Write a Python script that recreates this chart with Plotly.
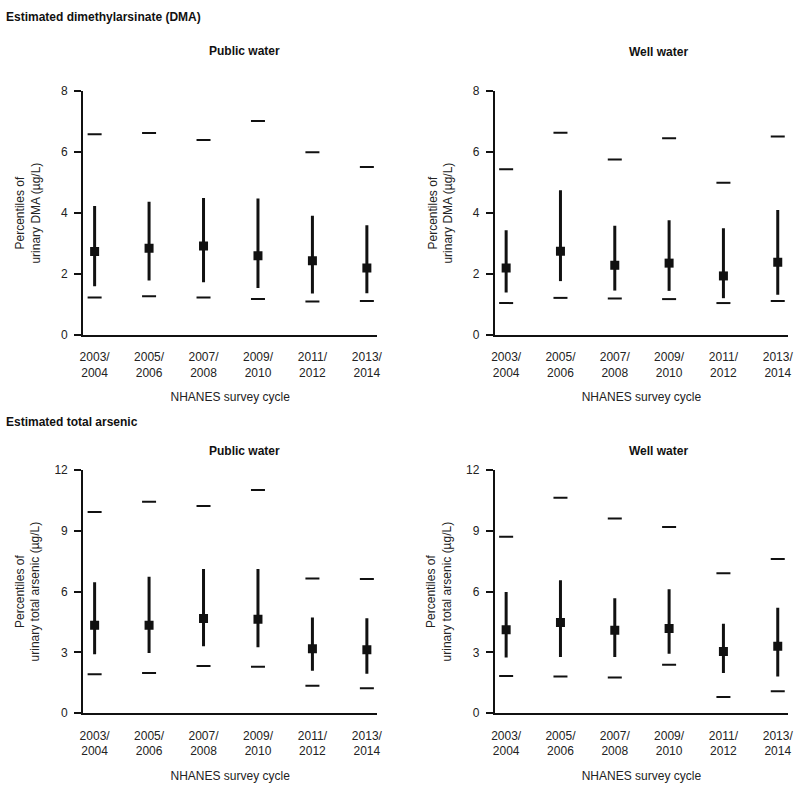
import plotly.graph_objects as go

cycles = ["2003/<br>2004", "2005/<br>2006", "2007/<br>2008", "2009/<br>2010", "2011/<br>2012", "2013/<br>2014"]

# Estimated DMA, public water (µg/L)
dma_public_p5 = [1.23, 1.27, 1.23, 1.18, 1.10, 1.12]
dma_public_p25 = [1.60, 1.79, 1.73, 1.54, 1.36, 1.37]
dma_public_p50 = [2.74, 2.85, 2.92, 2.60, 2.44, 2.20]
dma_public_p75 = [4.23, 4.37, 4.50, 4.48, 3.91, 3.60]
dma_public_p95 = [6.59, 6.63, 6.40, 7.02, 6.00, 5.51]

# Estimated DMA, well water
dma_well_p5 = [1.05, 1.22, 1.20, 1.18, 1.05, 1.12]
dma_well_p25 = [1.40, 1.77, 1.46, 1.45, 1.21, 1.32]
dma_well_p50 = [2.20, 2.75, 2.29, 2.36, 1.94, 2.39]
dma_well_p75 = [3.44, 4.75, 3.59, 3.77, 3.50, 4.10]
dma_well_p95 = [5.44, 6.64, 5.76, 6.46, 5.00, 6.51]

# Estimated total arsenic, public water
tas_public_p5 = [1.92, 1.99, 2.33, 2.29, 1.36, 1.23]
tas_public_p25 = [2.91, 2.97, 3.31, 3.26, 2.10, 1.95]
tas_public_p50 = [4.34, 4.34, 4.67, 4.64, 3.18, 3.13]
tas_public_p75 = [6.46, 6.73, 7.11, 7.11, 4.72, 4.68]
tas_public_p95 = [9.93, 10.43, 10.22, 11.01, 6.64, 6.62]

# Estimated total arsenic, well water
tas_well_p5 = [1.84, 1.81, 1.76, 2.39, 0.80, 1.08]
tas_well_p25 = [2.75, 2.78, 2.78, 2.94, 1.99, 1.81]
tas_well_p50 = [4.12, 4.47, 4.09, 4.18, 3.05, 3.31]
tas_well_p75 = [5.98, 6.56, 5.67, 6.12, 4.42, 5.20]
tas_well_p95 = [8.70, 10.63, 9.61, 9.19, 6.91, 7.61]

dma_ticks = [0, 2, 4, 6, 8]
tas_ticks = [0, 3, 6, 9, 12]

FONT = "Liberation Sans, Arial, Helvetica, sans-serif"
INK = "#111111"
TXT = "#222222"
W, H = 800, 789

panels = [
    (dma_public_p5, dma_public_p25, dma_public_p50, dma_public_p75, dma_public_p95, "x", "y"),
    (dma_well_p5, dma_well_p25, dma_well_p50, dma_well_p75, dma_well_p95, "x2", "y2"),
    (tas_public_p5, tas_public_p25, tas_public_p50, tas_public_p75, tas_public_p95, "x3", "y3"),
    (tas_well_p5, tas_well_p25, tas_well_p50, tas_well_p75, tas_well_p95, "x4", "y4"),
]

xs = list(range(len(cycles)))
fig = go.Figure()
for p5, p25, p50, p75, p95, xa, ya in panels:
    fig.add_trace(go.Scatter(
        x=xs, y=p50, xaxis=xa, yaxis=ya, mode="markers",
        marker=dict(symbol="square", size=9, color=INK),
        error_y=dict(type="data", symmetric=False,
                     array=[b - a for a, b in zip(p50, p75)],
                     arrayminus=[a - b for a, b in zip(p50, p25)],
                     width=0, thickness=3, color=INK),
        hoverinfo="skip"))
    fig.add_trace(go.Scatter(
        x=xs + xs, y=p5 + p95, xaxis=xa, yaxis=ya, mode="markers",
        marker=dict(symbol="line-ew", size=10, line=dict(width=2, color=INK)),
        hoverinfo="skip"))

def px_to_x(p):
    return p / W

def px_to_y(p):
    return 1 - p / H

xdom_l = [px_to_x(81), px_to_x(378)]
xdom_r = [px_to_x(496.7), px_to_x(793)]
ydom_t = [px_to_y(334), px_to_y(85.7)]
ydom_b = [px_to_y(719), px_to_y(471.3)]

def xaxis(dom, anchor):
    return dict(domain=dom, anchor=anchor, range=[-0.21, 5.19],
                tickmode="array", tickvals=xs, ticktext=cycles,
                showline=True, linewidth=2, linecolor=INK, ticks="",
                ticklabelstandoff=10,
                showgrid=False, zeroline=False, fixedrange=True,
                tickfont=dict(family=FONT, size=12, color=TXT),
                title=dict(text="NHANES survey cycle", standoff=14,
                           font=dict(family=FONT, size=12, color=TXT)))

def yaxis(dom, anchor, ticks, title, standoff):
    return dict(domain=dom, anchor=anchor, range=[ticks[0], ticks[-1]],
                tickmode="array", tickvals=ticks,
                showline=True, linewidth=2, linecolor=INK,
                ticks="outside", ticklen=7, tickwidth=2, tickcolor=INK,
                ticklabelstandoff=4,
                showgrid=False, zeroline=False, fixedrange=True,
                tickfont=dict(family=FONT, size=12, color=TXT),
                title=dict(text=title, standoff=standoff,
                           font=dict(family=FONT, size=12, color=TXT)))

dma_title = "Percentiles of<br>urinary DMA (µg/L)"
tas_title = "Percentiles of<br>urinary total arsenic (µg/L)"

fig.update_layout(
    width=W, height=H, margin=dict(l=0, r=0, t=0, b=0),
    paper_bgcolor="white", plot_bgcolor="white", showlegend=False,
    font=dict(family=FONT, size=12, color=TXT),
    xaxis=xaxis(xdom_l, "y"), yaxis=yaxis(ydom_t, "x", dma_ticks, dma_title, 18),
    xaxis2=xaxis(xdom_r, "y2"), yaxis2=yaxis(ydom_t, "x2", dma_ticks, dma_title, 17),
    xaxis3=xaxis(xdom_l, "y3"), yaxis3=yaxis(ydom_b, "x3", tas_ticks, tas_title, 12),
    xaxis4=xaxis(xdom_r, "y4"), yaxis4=yaxis(ydom_b, "x4", tas_ticks, tas_title, 12),
)

def label(text, x, y, anchor="center"):
    fig.add_annotation(text=f"<b>{text}</b>", xref="paper", yref="paper",
                       x=px_to_x(x), y=px_to_y(y), xanchor=anchor, yanchor="middle",
                       showarrow=False, font=dict(family=FONT, size=12, color="#111111"))

label("Estimated dimethylarsinate (DMA)", 1, 10.5, "left")
label("Public water", 244, 45)
label("Well water", 661.7, 45.5)
label("Estimated total arsenic", 1, 422.7, "left")
label("Public water", 244, 451.7)
label("Well water", 661.7, 451.7)

fig.write_html("out.html", config={"displayModeBar": False},
               post_script="document.body.style.margin='0';document.body.style.overflow='hidden';")
